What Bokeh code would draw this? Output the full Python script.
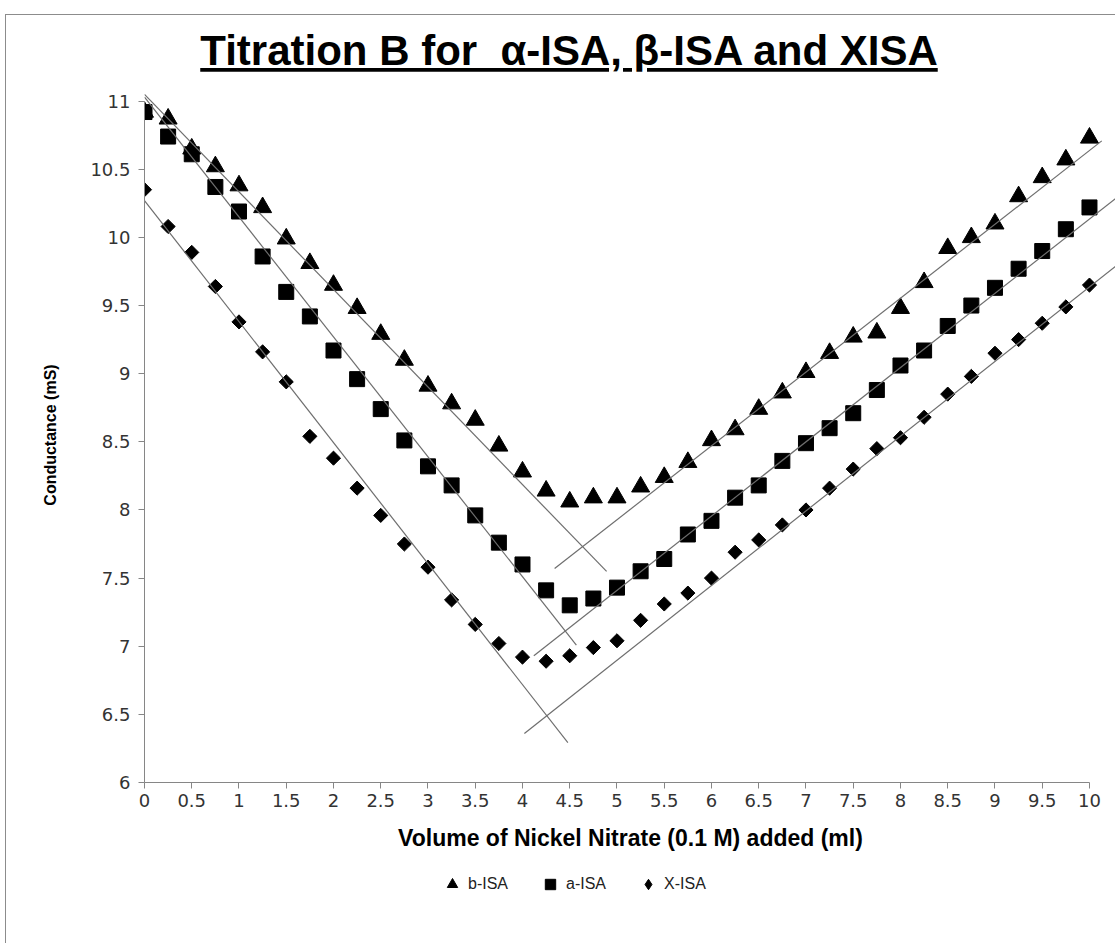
import numpy as np
from bokeh.plotting import figure
from bokeh.models import (Range1d, Legend, LegendItem, SingleIntervalTicker,
                          NumeralTickFormatter, Div, ColumnDataSource)
from bokeh.layouts import column
from bokeh.embed import file_html
from bokeh.resources import INLINE

# ---------------- data ----------------
volume_ml = [0, 0.25, 0.5, 0.75, 1, 1.25, 1.5, 1.75, 2, 2.25, 2.5, 2.75, 3, 3.25,
             3.5, 3.75, 4, 4.25, 4.5, 4.75, 5, 5.25, 5.5, 5.75, 6, 6.25, 6.5, 6.75,
             7, 7.25, 7.5, 7.75, 8, 8.25, 8.5, 8.75, 9, 9.25, 9.5, 9.75, 10]

b_isa = [10.92, 10.87, 10.65, 10.52, 10.38, 10.22, 9.99, 9.81, 9.65, 9.48, 9.29,
         9.10, 8.91, 8.78, 8.66, 8.47, 8.28, 8.14, 8.06, 8.09, 8.09, 8.17, 8.24,
         8.35, 8.51, 8.59, 8.74, 8.86, 9.01, 9.15, 9.27, 9.30, 9.48, 9.67, 9.92,
         10.00, 10.10, 10.30, 10.44, 10.57, 10.73]

a_isa = [10.92, 10.74, 10.61, 10.37, 10.19, 9.86, 9.60, 9.42, 9.17, 8.96, 8.74,
         8.51, 8.32, 8.18, 7.96, 7.76, 7.60, 7.41, 7.30, 7.35, 7.43, 7.55, 7.64,
         7.82, 7.92, 8.09, 8.18, 8.36, 8.49, 8.60, 8.71, 8.88, 9.06, 9.17, 9.35,
         9.50, 9.63, 9.77, 9.90, 10.06, 10.22]

x_isa = [10.35, 10.08, 9.89, 9.64, 9.38, 9.16, 8.94, 8.54, 8.38, 8.16, 7.96,
         7.75, 7.58, 7.34, 7.16, 7.02, 6.92, 6.89, 6.93, 6.99, 7.04, 7.19, 7.31,
         7.39, 7.50, 7.69, 7.78, 7.89, 8.00, 8.16, 8.30, 8.45, 8.53, 8.68, 8.85,
         8.98, 9.15, 9.25, 9.37, 9.49, 9.65]

series_names = ["b-ISA", "a-ISA", "X-ISA"]

# linear trend lines (descending and ascending branch of each series)
trend_series = ["b-ISA", "b-ISA", "a-ISA", "a-ISA", "X-ISA", "X-ISA"]
trend_slope = [-0.716, 0.542, -0.880, 0.545, -0.888, 0.548]
trend_intercept = [11.05, 5.218, 11.03, 4.685, 10.27, 4.157]
trend_x_start = [0.0, 4.34, 0.0, 4.12, 0.0, 4.02]
trend_x_end = [4.89, 10.13, 4.57, 10.30, 4.48, 10.30]

x_ticks_interval = 0.5
y_ticks_interval = 0.5

title_text = "Titration B for  \u03b1-ISA, \u03b2-ISA and XISA"
x_label = "Volume of Nickel Nitrate (0.1 M) added (ml)"
y_label = "Conductance (mS)"

# ---------------- layout constants ----------------
W = 1110
TITLE_H = 57
LEGEND_H = 81
BORDER_COLOR = "#8c8c8c"
BORDER_LEFT = {"border-left": "1px solid " + BORDER_COLOR}

# ---------------- main figure ----------------
p = figure(frame_width=971, frame_height=695,
           x_range=Range1d(0, 10.286), y_range=Range1d(6, 11.1),
           output_backend="svg", toolbar_location=None,
           min_border_left=138, min_border_right=0,
           min_border_top=16, min_border_bottom=80,
           styles=BORDER_LEFT)
p.outline_line_color = None
p.xgrid.visible = False
p.ygrid.visible = False
p.background_fill_color = "white"
p.border_fill_color = "white"

axis_color = "#868686"
for ax in (p.xaxis[0], p.yaxis[0]):
    ax.axis_line_color = axis_color
    ax.major_tick_line_color = axis_color
    ax.minor_tick_line_color = None
    ax.major_tick_in = 0
    ax.major_tick_out = 6
    ax.major_label_text_font = "DejaVu Sans"
    ax.major_label_text_font_size = "18px"
    ax.major_label_text_color = "#333333"
    ax.axis_label_text_font = "Liberation Sans"
    ax.axis_label_text_font_style = "bold"
    ax.axis_label_text_color = "#000000"

p.xaxis.ticker = SingleIntervalTicker(interval=x_ticks_interval)
p.yaxis.ticker = SingleIntervalTicker(interval=y_ticks_interval)
p.xaxis.formatter = NumeralTickFormatter(format="0.[0]")
p.yaxis.formatter = NumeralTickFormatter(format="0.[0]")
p.xaxis.bounds = (0, 10)
p.yaxis.bounds = (6, 11)
p.xaxis.major_label_standoff = 5
p.yaxis.major_label_standoff = 8
p.xaxis.axis_label = x_label
p.yaxis.axis_label = y_label
p.xaxis.axis_label_text_font_size = "23px"
p.yaxis.axis_label_text_font_size = "16px"
p.xaxis.axis_label_standoff = 15
p.yaxis.axis_label_standoff = 28

src = ColumnDataSource(dict(x=volume_ml, b=b_isa, a=a_isa, X=x_isa))

marker_styles = [dict(marker="triangle", size=18, angle=0.0),
                 dict(marker="square", size=15, angle=0.0),
                 dict(marker="square", size=10, angle=np.pi / 4)]
legend_markers = ["triangle", "square", "diamond"]
columns = ["b", "a", "X"]

for col, ms in zip(columns, marker_styles):
    p.scatter("x", col, source=src, fill_color="black", line_color="black", **ms)

# trend lines
ts = np.array(trend_slope)
ti = np.array(trend_intercept)
tx0 = np.array(trend_x_start)
tx1 = np.array(trend_x_end)
p.segment(x0=tx0, y0=ti + ts * tx0, x1=tx1, y1=ti + ts * tx1,
          line_color="#6e6e6e", line_width=1.2)

# ---------------- legend strip (below the chart) ----------------
pl = figure(width=W, height=LEGEND_H, x_range=Range1d(0, 1), y_range=Range1d(0, 1),
            output_backend="svg", toolbar_location=None,
            x_axis_type=None, y_axis_type=None,
            min_border=0, styles=BORDER_LEFT)
pl.outline_line_color = None
pl.xgrid.visible = False
pl.ygrid.visible = False

# legend proxies: one point each, placed outside the visible range of the strip
leg_src = ColumnDataSource(dict(x=[-10.0], y=[-10.0]))
leg_renderers = [pl.scatter("x", "y", source=leg_src, marker=m, size=10,
                            fill_color="black", line_color="black")
                 for m in legend_markers]

legend = Legend(items=[LegendItem(label=n, renderers=[r])
                       for n, r in zip(series_names, leg_renderers)],
                orientation="horizontal", location=(295, 46),
                label_text_font="Liberation Sans", label_text_font_size="16px",
                label_text_color="#222222",
                glyph_width=26, glyph_height=26, spacing=29, label_standoff=3,
                border_line_color=None, background_fill_alpha=0,
                padding=4, margin=0)
pl.add_layout(legend)

# ---------------- title ----------------
title_div = Div(
    text=('<div style="width:%dpx; height:%dpx; text-align:center; '
          'font-family:\'Liberation Sans\', Arial, sans-serif; '
          'font-weight:bold; font-size:42px; line-height:1.15; text-decoration:underline; '
          'white-space:pre; padding-top:13px; padding-left:18px; box-sizing:border-box; '
          'overflow:visible; color:#000;">%s</div>')
         % (W, TITLE_H, title_text),
    width=W, height=TITLE_H, margin=0,
    styles={"box-shadow": "inset 1px 1px 0 " + BORDER_COLOR})

layout = column(title_div, p, pl, margin=0, spacing=0,
                styles={"margin-left": "5px", "margin-top": "14px"})

open("out.html", "w").write(file_html(layout, INLINE))
